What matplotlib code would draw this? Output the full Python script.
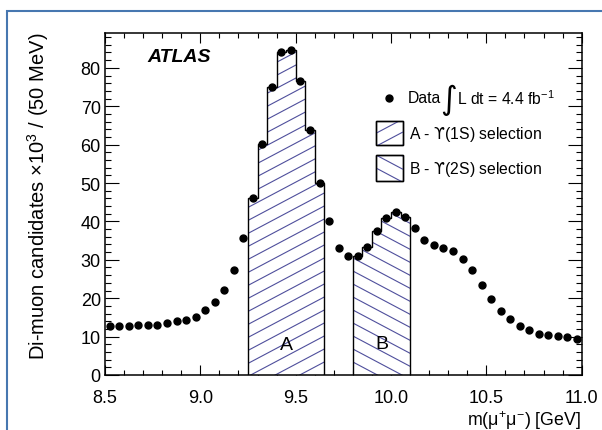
import numpy as np
import matplotlib
matplotlib.use("Agg")
import matplotlib.pyplot as plt
from matplotlib.patches import Rectangle
from matplotlib.collections import LineCollection
from matplotlib.transforms import IdentityTransform, Bbox
from matplotlib.ticker import MultipleLocator, FormatStrFormatter

plt.rcParams['font.family'] = ['Liberation Sans', 'DejaVu Sans']
plt.rcParams['mathtext.fontset'] = 'custom'
plt.rcParams['mathtext.rm'] = 'Liberation Sans'
plt.rcParams['mathtext.it'] = 'Liberation Sans:italic'
plt.rcParams['mathtext.sf'] = 'DejaVu Sans'

# di-muon mass spectrum, 50 MeV bins from 8.5 to 11.0 GeV (counts in units of 10^3)
bin_lo, bin_hi = 8.5, 11.0
counts = [
    12.7, 12.8, 12.8, 13.0, 13.0, 13.1, 13.5, 14.1, 14.4, 15.2,
    16.8, 19.1, 22.1, 27.3, 35.6, 46.1, 60.2, 75.1, 84.2, 84.7,
    76.7, 63.8, 49.9, 40.1, 33.2, 30.9, 31.1, 33.4, 37.6, 40.8,
    42.5, 41.1, 38.3, 35.2, 33.9, 33.2, 32.3, 30.2, 27.3, 23.5,
    19.9, 16.7, 14.6, 12.8, 11.8, 10.6, 10.5, 10.2, 9.8, 9.4,
]
# selection windows (GeV)
sel_a = (9.25, 9.65)
sel_b = (9.80, 10.10)

hatch_col = '#4f4f9c'

edges = np.linspace(bin_lo, bin_hi, len(counts) + 1)
centers = 0.5 * (edges[:-1] + edges[1:])
counts = np.array(counts)

fig = plt.figure(figsize=(6.02, 4.31), dpi=100)
W, H = 602, 431
ax = fig.add_axes([105 / W, 1 - 376 / H, 476.7 / W, 341.7 / H])
ax.set_xlim(bin_lo, bin_hi)
ax.set_ylim(0, 89)


def hatch_lines(ax, patch, sign, spacing=13.0, slope=0.53, zorder=2, box=False):
    # slanted hatching drawn in pixel space, clipped to the patch
    bb = patch.get_window_extent()
    x0, y0, x1, y1 = bb.x0, bb.y0, bb.x1, bb.y1
    w = x1 - x0
    segs = []
    c = y0 - slope * w - spacing
    while c < y1 + slope * w + spacing:
        if sign > 0:
            segs.append([(x0, c), (x1, c + slope * w)])
        else:
            segs.append([(x0, c + slope * w), (x1, c)])
        c += spacing
    lc = LineCollection(segs, transform=IdentityTransform(), colors=hatch_col,
                        linewidths=0.8, zorder=zorder)
    if not box:
        lc.set_clip_path(patch)
    ax.add_collection(lc, autolim=False)
    if box:
        lc.set_clip_path(None)
        lc.set_clip_box(Bbox([[x0, y0], [x1, y1]]))


def selection(lo, hi, sign):
    m = (centers > lo) & (centers < hi)
    e = edges[np.r_[m, False] | np.r_[False, m]]
    sp = ax.stairs(counts[m], e, fill=True, facecolor='white', edgecolor='none',
                   zorder=2)
    hatch_lines(ax, sp, sign)
    ax.stairs(counts[m], e, fill=True, facecolor='none', edgecolor='black',
              linewidth=1.0, zorder=3)


selection(*sel_a, +1)
selection(*sel_b, -1)

ax.plot(centers, counts, 'o', color='black', markersize=5, zorder=5)

ax.text(np.mean(sel_a), 8.0, 'A', fontsize=14, ha='center', va='center', zorder=6)
ax.text(np.mean(sel_b), 8.3, 'B', fontsize=14, ha='center', va='center', zorder=6)

ax.text(0.088, 0.931, 'ATLAS', transform=ax.transAxes, fontsize=14,
        fontweight='bold', fontstyle='italic', va='center', ha='left')

# legend
ax.plot([0.596], [0.811], 'o', color='black', markersize=5, transform=ax.transAxes)
ax.text(0.636, 0.811, 'Data', transform=ax.transAxes, fontsize=11.3, va='center')
ax.text(0.7206, 0.806, '\u222b', transform=ax.transAxes, fontsize=23,
        va='center', ha='center', family=['DejaVu Sans'])
ax.text(0.738, 0.811, 'L dt = 4.4 fb$^{\\mathregular{-1}}$', transform=ax.transAxes,
        fontsize=11.3, va='center')

legend_rows = [(0.7433, 0.6731, +1, 'A - $\\mathsf{\u03d2}$(1S) selection'),
               (0.6438, 0.5677, -1, 'B - $\\mathsf{\u03d2}$(2S) selection')]
for (ytop, ybot, sign, label) in legend_rows:
    r = Rectangle((0.5685, ybot), 0.0565, ytop - ybot, transform=ax.transAxes,
                  facecolor='white', edgecolor='black', linewidth=1.0, zorder=4)
    ax.add_patch(r)
    hatch_lines(ax, r, sign, zorder=4, box=True)
    ax.add_patch(Rectangle((0.5685, ybot), 0.0565, ytop - ybot, transform=ax.transAxes,
                           facecolor='none', edgecolor='black', linewidth=1.0, zorder=4))
    ax.text(0.6377, 0.5 * (ytop + ybot), label, transform=ax.transAxes,
            fontsize=11.3, va='center')

# axes styling
ax.xaxis.set_major_locator(MultipleLocator(0.5))
ax.xaxis.set_minor_locator(MultipleLocator(0.1))
ax.yaxis.set_major_locator(MultipleLocator(10))
ax.yaxis.set_minor_locator(MultipleLocator(2))
ax.xaxis.set_major_formatter(FormatStrFormatter('%.1f'))
ax.tick_params(axis='both', which='both', direction='in', top=True, right=True,
               labelsize=13, width=0.8)
ax.tick_params(axis='x', which='major', length=7.5, pad=10)
ax.tick_params(axis='x', which='minor', length=3.7)
ax.tick_params(axis='y', which='major', length=10, pad=3)
ax.tick_params(axis='y', which='minor', length=4.5)
for s in ax.spines.values():
    s.set_linewidth(1.1)

fig.text(38 / W, 1 - 33 / H, 'Di-muon candidates \u00d710$^{\\mathregular{3}}$ / (50 MeV)',
         rotation=90, ha='center', va='top', fontsize=14.5)
fig.text(581 / W, 1 - 426 / H,
         'm(\u03bc$^{\\mathregular{+}}$\u03bc$^{\\mathregular{-}}$) [GeV]',
         ha='right', va='baseline', fontsize=12.8)

# outer frame
fig.add_artist(Rectangle((7 / W, -0.1), 1.2, (H - 12) / H + 0.1, transform=fig.transFigure,
                         fill=False, edgecolor='#4777b0', linewidth=1.5))

fig.savefig('out.png', dpi=100)
